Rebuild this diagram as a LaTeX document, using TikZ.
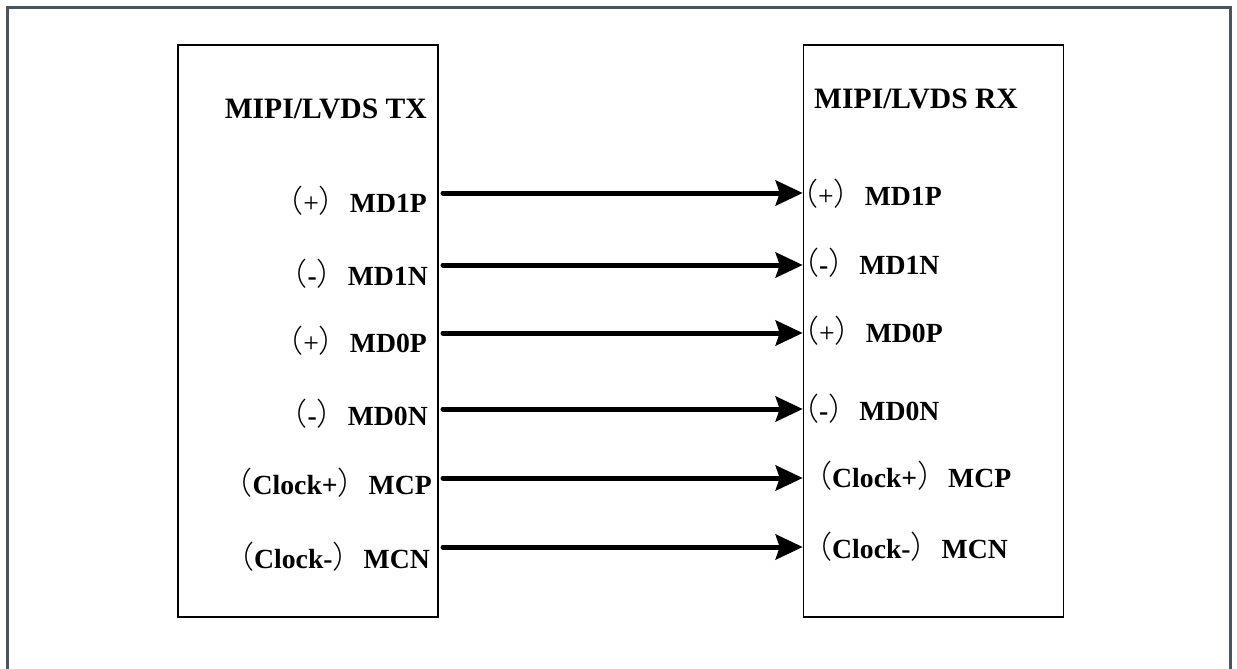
\documentclass[tikz,border=0pt]{standalone}
\usepackage{fontspec}
\setmainfont{Liberation Serif}
\newfontfamily\cjk{Noto Sans CJK SC Light}
\usetikzlibrary{arrows.meta}
\definecolor{framecol}{RGB}{72,84,96}
\newcommand{\lp}{{\cjk\mdseries\fontsize{31}{32}\selectfont （}}
\newcommand{\rp}{{\cjk\mdseries\fontsize{31}{32}\selectfont ）}}
\newcommand{\pl}{{\mdseries+}}
\begin{document}
\begin{tikzpicture}[x=1pt,y=-1pt,
  box/.style={draw=black,line width=1.6pt,rectangle,minimum width=260pt,minimum height=572pt,inner sep=0pt},
  lbl/.style={font=\bfseries\fontsize{27.7}{30}\selectfont,inner sep=0pt},
  ttl/.style={font=\bfseries\fontsize{29.6}{32}\selectfont,inner sep=0pt},
  sig/.style={line width=5pt,line cap=round,-{Stealth[length=27pt,width=25pt,inset=4pt]}}]
\useasboundingbox (0,0) rectangle (1237,669);
\draw[framecol,line width=3pt] (7,672) -- (7,8) -- (1230,8) -- (1230,672);
\node[box] (tx) at (308,331) {};
\node[box] (rx) at (933.5,331) {};
\node[ttl,anchor=base east] (txt) at (427,118) {MIPI/LVDS TX};
\node[ttl,anchor=base west] (rxt) at (814,108) {MIPI/LVDS RX};
% left labels
\node[lbl,anchor=base east] (l1) at (427,212) {\lp\pl\rp MD1P};
\node[lbl,anchor=base east] (l2) at (428,285) {\lp-\rp MD1N};
\node[lbl,anchor=base east] (l3) at (427,352) {\lp\pl\rp MD0P};
\node[lbl,anchor=base east] (l4) at (428,425) {\lp-\rp MD0N};
\node[lbl,anchor=base east] (l5) at (432,494) {\lp Clock+\rp MCP};
\node[lbl,anchor=base east] (l6) at (430,568) {\lp Clock-\rp MCN};
% right labels
\node[lbl,anchor=base west] (r1) at (787,205) {\lp\pl\rp MD1P};
\node[lbl,anchor=base west] (r2) at (788,274) {\lp-\rp MD1N};
\node[lbl,anchor=base west] (r3) at (788,342) {\lp\pl\rp MD0P};
\node[lbl,anchor=base west] (r4) at (788,420) {\lp-\rp MD0N};
\node[lbl,anchor=base west] (r5) at (801,487) {\lp Clock+\rp MCP};
\node[lbl,anchor=base west] (r6) at (801,558) {\lp Clock-\rp MCN};
% connectors
\foreach \i/\y in {1/193,2/265,3/333,4/409,5/478,6/547}{
  \coordinate (s\i) at (443,\y);
  \coordinate (e\i) at (rx.west |- s\i);
  \draw[sig] (s\i) -- (e\i);
}
\end{tikzpicture}
\end{document}
